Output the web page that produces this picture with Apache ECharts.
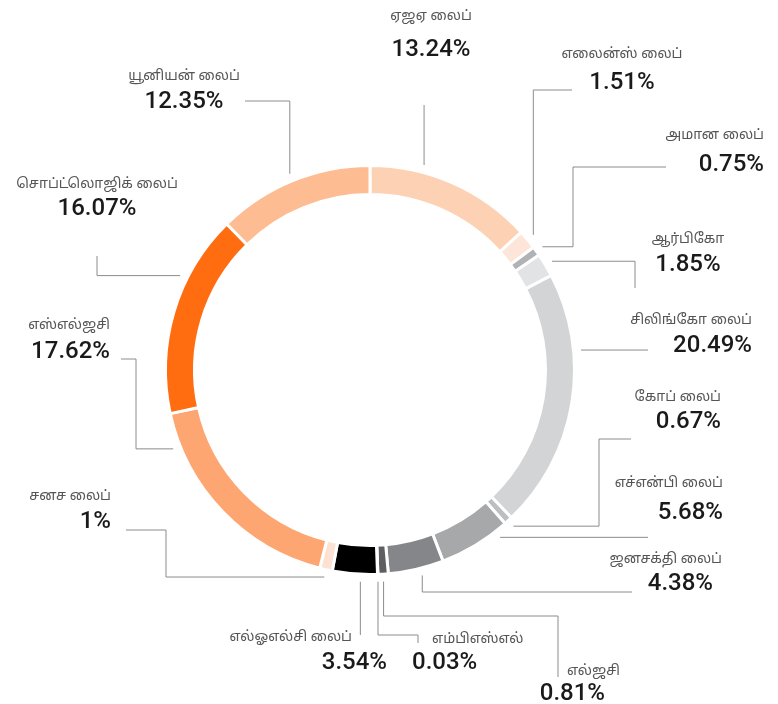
<!doctype html>
<html>
<head>
<meta charset="utf-8">
<title>பங்கு</title>
<script src="https://cdn.jsdelivr.net/npm/echarts@6/dist/echarts.min.js"></script>
<style>
    html, body { margin: 0; padding: 0; background: #fff; }
    #chart { width: 778px; height: 704px; }
</style>
</head>
<body>
<div id="chart"></div>
<script>
    // data, clockwise from 12 o'clock
    var names = ['ஏஜஏ லைப்', 'எலைன்ஸ் லைப்', 'அமான லைப்', 'ஆர்பிகோ', 'சிலிங்கோ லைப்', 'கோப் லைப்',
        'எச்என்பி லைப்', 'ஜனசக்தி லைப்', 'எல்ஜசி', 'எம்பிஎஸ்எல்', 'எல்ஓஎல்சி லைப்', 'சனச லைப்',
        'எஸ்எல்ஜசி', 'சொப்ட்லொஜிக் லைப்', 'யூனியன் லைப்'];
    var shares = [13.24, 1.51, 0.75, 1.85, 20.49, 0.67, 5.68, 4.38, 0.81, 0.03, 3.54, 1, 17.62, 16.07, 12.35];
    var colors = ['#fdd1b3', '#fde6d9', '#b1b2b4', '#e2e3e4', '#d3d4d5', '#bdbec0', '#a7a8aa', '#858689',
        '#5e5f61', '#3a3a3a', '#000000', '#fde1d3', '#fda672', '#ff6d10', '#febc92'];

    // label placement: x, y (centre of name line), align, d (name->value distance)
    var labelPos = [
        [431, 17, 'center', 33], [622, 55, 'center', 28], [764, 136, 'right', 29], [688, 240, 'center', 25],
        [752, 321, 'right', 25], [721, 398, 'right', 24], [723, 484, 'right', 29], [722, 560, 'right', 24],
        [620, 672, 'right', 22], [412, 640, 'left', 23], [387, 638, 'right', 25], [111, 497, 'right', 25],
        [110, 326, 'right', 26], [97, 185, 'center', 24], [184, 77, 'center', 25]
    ];
    // extra horizontal padding [left, right] for name / value line
    var namePad = {9: [20, 0], 10: [0, 35]};
    var valuePad = {7: [0, 9], 8: [0, 15]};
    // leader line: where it leaves the slice (0..1), first direction, then the elbow coordinates
    var leaders = [
        [0.31, 'v', [105]], [0.5, 'v', [90, 572]], [0.5, 'h', [573, 167, 666]], [0.5, 'h', [635, 288]],
        [0.30, 'h', [648]], [0.5, 'h', [599, 439, 631]], [0.17, 'h', [648]], [0.42, 'v', [592, 632]],
        [0.5, 'v', [616, 558, 677]], [0.5, 'v', [635, 418, 643]], [0.37, 'v', [635]], [0.5, 'h', [166, 530, 126]],
        [0.85, 'h', [136, 359, 121]], [0.67, 'h', [97, 256]], [0.5, 'v', [101, 245]]
    ];

    var cx = 370, cy = 370, r0 = 212;
    var total = shares.reduce(function (a, b) { return a + b; }, 0);
    var startAng = [], acc = 0;
    shares.forEach(function (v) { startAng.push(acc / total * 360); acc += v; });

    function leaderPoints(i) {
        var L = leaders[i];
        var a0 = startAng[i], a1 = a0 + shares[i] / total * 360;
        var ang = (a0 + (a1 - a0) * L[0]) * Math.PI / 180;
        var p = [cx + r0 * Math.sin(ang), cy - r0 * Math.cos(ang)];
        var pts = [p], dir = L[1];
        L[2].forEach(function (c) {
            var last = pts[pts.length - 1];
            pts.push(dir === 'v' ? [last[0], c] : [c, last[1]]);
            dir = dir === 'v' ? 'h' : 'v';
        });
        return pts;
    }

    var data = names.map(function (n, i) {
        var al = labelPos[i][2];
        var np = namePad[i] || [0, 0], vp = valuePad[i] || [0, 0];
        var gap = 2 * (labelPos[i][3] - 13);
        return {
            name: n,
            value: shares[i],
            itemStyle: {color: colors[i]},
            label: {
                rich: {
                    n: {
                        fontFamily: "'Noto Sans Tamil', 'Noto Sans', sans-serif",
                        fontSize: 14, color: '#555', lineHeight: gap, align: al,
                        padding: [0, np[1], 0, np[0]]
                    },
                    v: {
                        fontFamily: 'Roboto, sans-serif',
                        fontSize: 24, fontWeight: 500, color: '#1a1a1a', lineHeight: 26, align: al,
                        padding: [0, vp[1], 0, vp[0]]
                    }
                }
            }
        };
    });

    var myChart = echarts.init(document.getElementById('chart'));
    var option = {
        backgroundColor: '#fff',
        animation: false,
        series: [{
            type: 'pie',
            center: [cx, cy],
            radius: [175.5, 204.5],
            startAngle: 90,
            clockwise: true,
            avoidLabelOverlap: false,
            itemStyle: {borderColor: '#fff', borderWidth: 3},
            label: {
                show: true,
                position: 'outside',
                formatter: function (p) {
                    return '{n|' + p.name + '}\n{v|' + p.value + '%}';
                }
            },
            labelLine: {
                show: true,
                smooth: false,
                lineStyle: {color: '#8c8c8c', width: 1}
            },
            labelLayout: function (params) {
                var i = params.dataIndex;
                var lp = labelPos[i];
                return {
                    x: lp[0],
                    y: lp[1] - lp[3] + 13,
                    align: lp[2],
                    verticalAlign: 'top',
                    labelLinePoints: leaderPoints(i)
                };
            },
            emphasis: {disabled: true},
            data: data
        }]
    };
    myChart.setOption(option);
</script>
</body>
</html>
